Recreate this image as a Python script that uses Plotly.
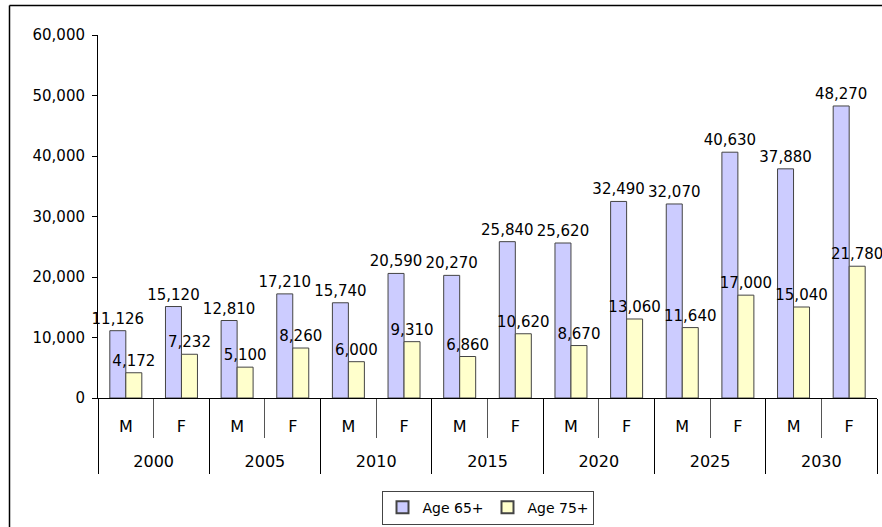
import plotly.graph_objects as go

years = ["2000", "2005", "2010", "2015", "2020", "2025", "2030"]
sexes = ["M", "F"]
age65 = [11126, 15120, 12810, 17210, 15740, 20590, 20270, 25840, 25620, 32490, 32070, 40630, 37880, 48270]
age75 = [4172, 7232, 5100, 8260, 6000, 9310, 6860, 10620, 8670, 13060, 11640, 17000, 15040, 21780]

cats = [f"{y}-{s}" for y in years for s in sexes]
xpos = list(range(len(cats)))
inner_text = [s for y in years for s in sexes]
n = len(cats)
grp = len(sexes)

W, H = 882, 527
L, R, T, B = 98, 5, 35, 129
PW, PH = W - L - R, H - T - B

FONT = "DejaVu Sans"

fig = go.Figure()
fig.add_trace(go.Bar(
    x=xpos, y=age65, name="Age 65+",
    marker=dict(color="#CCCCFF", line=dict(color="#444444", width=1)),
    text=[f"{v:,}" for v in age65], textposition="outside",
    textfont=dict(family=FONT, size=15, color="black"),
    cliponaxis=False, constraintext="none",
))
fig.add_trace(go.Bar(
    x=xpos, y=age75, name="Age 75+",
    marker=dict(color="#FFFFCC", line=dict(color="#444444", width=1)),
    text=[f"{v:,}" for v in age75], textposition="outside",
    textfont=dict(family=FONT, size=15, color="black"),
    cliponaxis=False, constraintext="none",
))

rng = [-0.5, n - 0.5]
fig.update_layout(
    width=W, height=H,
    margin=dict(l=L, r=R, t=T, b=B, autoexpand=False),
    paper_bgcolor="white", plot_bgcolor="white",
    barmode="group", bargap=0.425, bargroupgap=0,
    font=dict(family=FONT, size=15, color="black"),
    showlegend=True,
    legend=dict(orientation="h", x=0.5, xanchor="center", y=-0.255, yanchor="top",
                bordercolor="#444444", borderwidth=1, font=dict(size=14),
                itemsizing="constant", traceorder="normal", itemwidth=30,
                entrywidth=60),
    xaxis=dict(
        range=rng, tickmode="array", tickvals=xpos, ticktext=inner_text,
        ticks="", showline=True, linecolor="black", linewidth=1,
        showgrid=False, zeroline=False, ticklabelstandoff=14,
        tickfont=dict(size=16),
        minor=dict(tickmode="array", tickvals=[i - 0.5 for i in range(n + 1)],
                   ticks="outside", ticklen=39, tickcolor="#555555", tickwidth=1),
    ),
    xaxis2=dict(
        range=rng, overlaying="x", anchor="y", side="bottom",
        tickmode="array",
        tickvals=[i * grp + (grp - 1) / 2 for i in range(len(years))],
        ticktext=years, ticks="", showline=False, showgrid=False, zeroline=False,
        ticklabelstandoff=52, tickfont=dict(size=16),
        minor=dict(tickmode="array", tickvals=[i * grp - 0.5 for i in range(len(years) + 1)],
                   ticks="outside", ticklen=75, tickcolor="black", tickwidth=1),
    ),
    yaxis=dict(
        range=[0, 60000], dtick=10000, tickformat=",",
        ticks="outside", ticklen=5, tickcolor="black",
        showline=True, linecolor="black", linewidth=1,
        showgrid=False, zeroline=False, ticklabelstandoff=4,
        tickfont=dict(size=15),
    ),
)

# dummy invisible trace so xaxis2 is rendered
fig.add_trace(go.Scatter(x=[xpos[0]], y=[0], xaxis="x2", yaxis="y", mode="markers",
                         marker=dict(opacity=0), showlegend=False, hoverinfo="skip"))

# outer chart frame (left and top edges visible)
fx0 = (9.5 - L) / PW
fytop = 1 + (T - 5.5) / PH
fig.add_shape(type="line", xref="paper", yref="paper",
              x0=fx0, x1=fx0, y0=fytop, y1=-(B + 5) / PH,
              line=dict(color="black", width=1.5))
fig.add_shape(type="line", xref="paper", yref="paper",
              x0=fx0, x1=1 + (R + 5) / PW, y0=fytop, y1=fytop,
              line=dict(color="black", width=1.5))

fig.write_html("out.html", config={"displayModeBar": False},
               post_script="document.body.style.margin='0';")
